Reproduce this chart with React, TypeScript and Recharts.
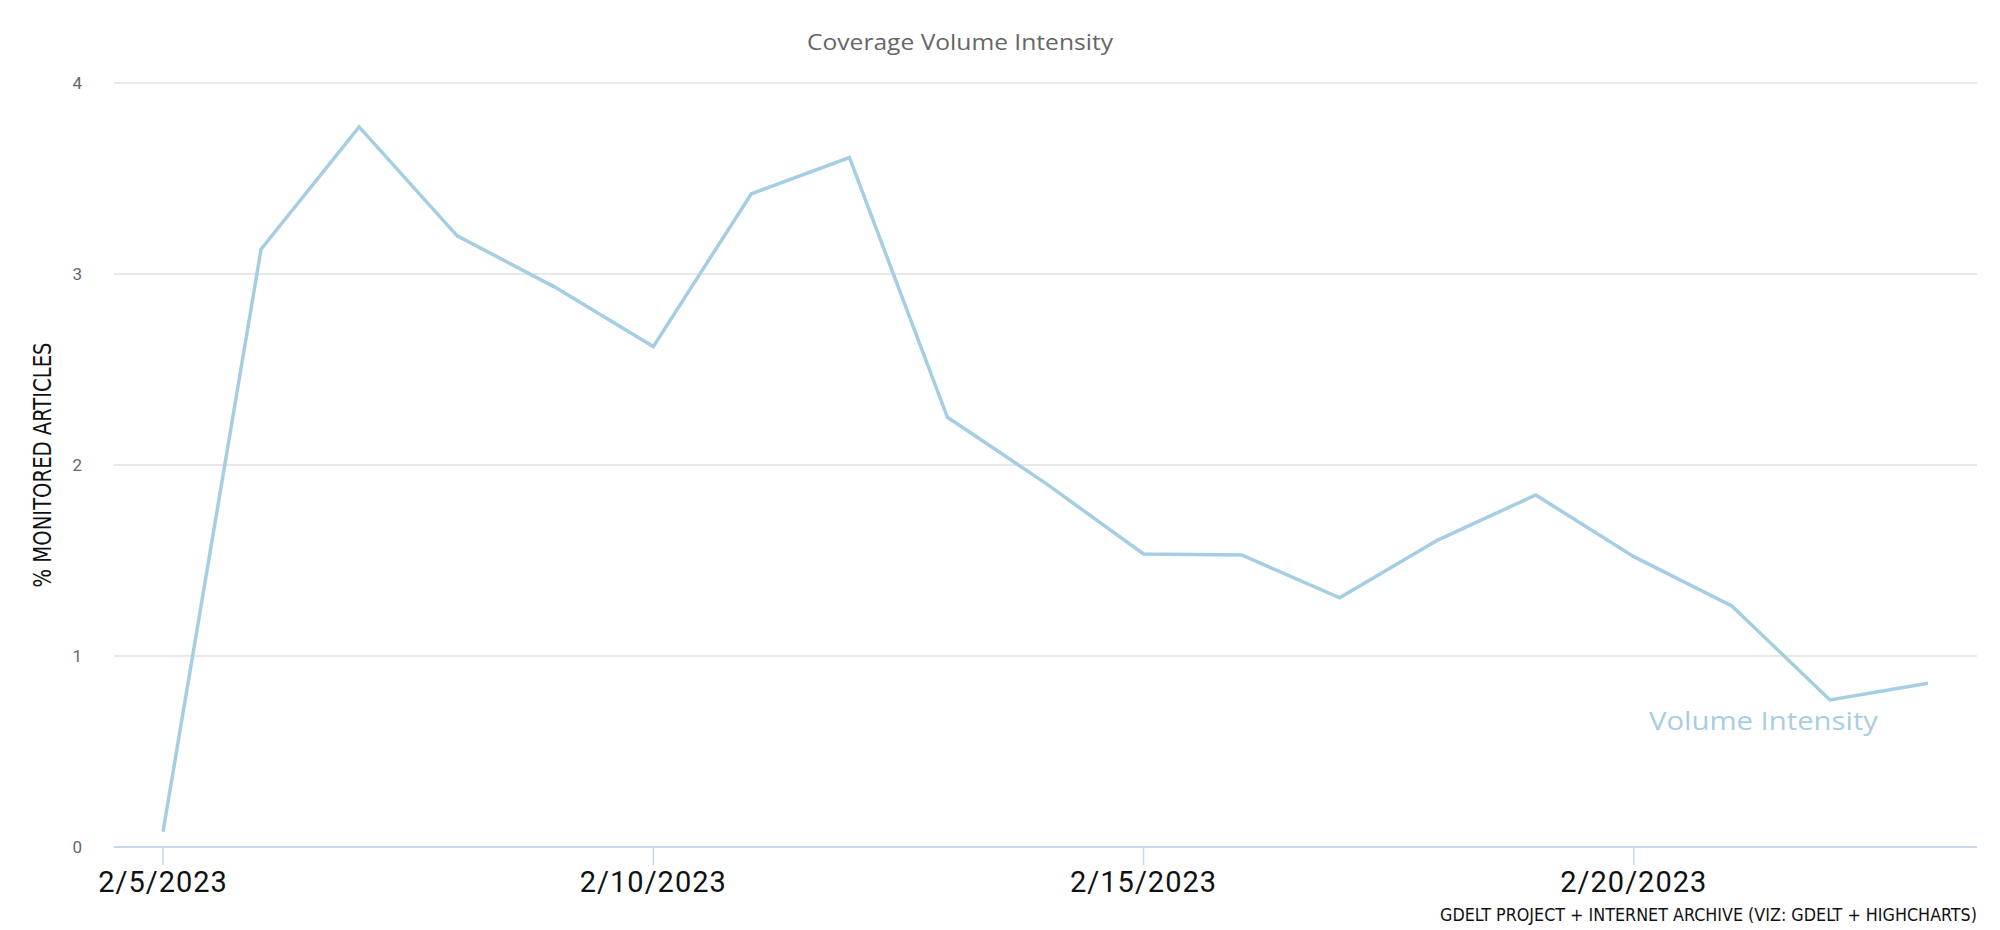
import React from 'react';
import {
  LineChart,
  Line,
  XAxis,
  YAxis,
  CartesianGrid,
} from 'recharts';

// days since 2/5/2023
const dates = [
  '2/5/2023', '2/6/2023', '2/7/2023', '2/8/2023', '2/9/2023', '2/10/2023',
  '2/11/2023', '2/12/2023', '2/13/2023', '2/14/2023', '2/15/2023', '2/16/2023',
  '2/17/2023', '2/18/2023', '2/19/2023', '2/20/2023', '2/21/2023', '2/22/2023',
  '2/23/2023',
];

const volumeIntensity = [
  0.08, 3.13, 3.77, 3.2, 2.93, 2.62, 3.42, 3.61, 2.25, 1.905,
  1.534, 1.529, 1.305, 1.607, 1.843, 1.52, 1.262, 0.77, 0.857,
];

const xTicks = [0, 5, 10, 15];
const yTicks = [0, 1, 2, 3, 4];

const data = dates.map((d, i) => ({ day: i, date: d, value: volumeIntensity[i] }));

const LINE_COLOR = '#a6cee3';

const XTick = (props: any) => {
  const { x, y, payload } = props;
  return (
    <text
      x={x}
      y={y + 27}
      textAnchor="middle"
      fontFamily="Roboto, 'Liberation Sans', sans-serif"
      fontSize={29}
      letterSpacing={1}
      fill="#111"
    >
      {dates[payload.value]}
    </text>
  );
};

const YTick = (props: any) => {
  const { x, y, payload } = props;
  return (
    <text
      x={x}
      y={y + 6}
      textAnchor="end"
      fontFamily="Roboto, 'Liberation Sans', sans-serif"
      fontSize={17}
      fill="#666"
    >
      {payload.value}
    </text>
  );
};

export default function App() {
  return (
    <div style={{ position: 'absolute', left: 0, top: 0, width: 2000, height: 930, background: '#fff' }}>
      <LineChart
        width={2000}
        height={930}
        data={data}
        margin={{ top: 83, right: 23, left: 0, bottom: 0 }}
      >
        <CartesianGrid vertical={false} stroke="#e0e0e0" strokeWidth={1.3} />
        <XAxis
          dataKey="day"
          type="number"
          domain={[-0.5, 18.5]}
          ticks={xTicks}
          interval={0}
          height={83}
          tickSize={18}
          tickMargin={0}
          axisLine={{ stroke: '#ccd6eb', strokeWidth: 2 }}
          tickLine={{ stroke: '#ccd6eb', strokeWidth: 1.5 }}
          tick={<XTick />}
        />
        <YAxis
          type="number"
          domain={[0, 4]}
          ticks={yTicks}
          width={114}
          axisLine={false}
          tickLine={false}
          tickSize={0}
          tickMargin={32}
          tick={<YTick />}
        />
        <Line
          type="linear"
          dataKey="value"
          stroke={LINE_COLOR}
          strokeWidth={3.5}
          dot={false}
          activeDot={false}
          isAnimationActive={false}
        />
      </LineChart>
      <svg
        width={2000}
        height={930}
        style={{ position: 'absolute', left: 0, top: 0, pointerEvents: 'none' }}
      >
        <text
          x={960}
          y={50}
          textAnchor="middle"
          fontFamily="'Open Sans', Roboto, sans-serif"
          fontSize={22}
          fill="#666"
          textLength={306}
          lengthAdjust="spacingAndGlyphs"
        >
          Coverage Volume Intensity
        </text>
        <text
          x={0}
          y={0}
          transform="translate(51 465) rotate(-90)"
          textAnchor="middle"
          fontFamily="'Liberation Sans Narrow', 'DejaVu Sans Condensed', sans-serif"
          fontSize={24}
          fill="#111"
          textLength={245}
          lengthAdjust="spacingAndGlyphs"
        >
          % MONITORED ARTICLES
        </text>
        <text
          x={1649}
          y={730}
          fontFamily="'Open Sans', Roboto, sans-serif"
          fontSize={26}
          fill={LINE_COLOR}
          textLength={229}
          lengthAdjust="spacingAndGlyphs"
        >
          Volume Intensity
        </text>
        <text
          x={1977}
          y={921}
          textAnchor="end"
          fontFamily="'Liberation Sans Narrow', 'DejaVu Sans Condensed', sans-serif"
          fontSize={18}
          fill="#111"
          textLength={537}
          lengthAdjust="spacingAndGlyphs"
        >
          GDELT PROJECT + INTERNET ARCHIVE (VIZ: GDELT + HIGHCHARTS)
        </text>
      </svg>
    </div>
  );
}
